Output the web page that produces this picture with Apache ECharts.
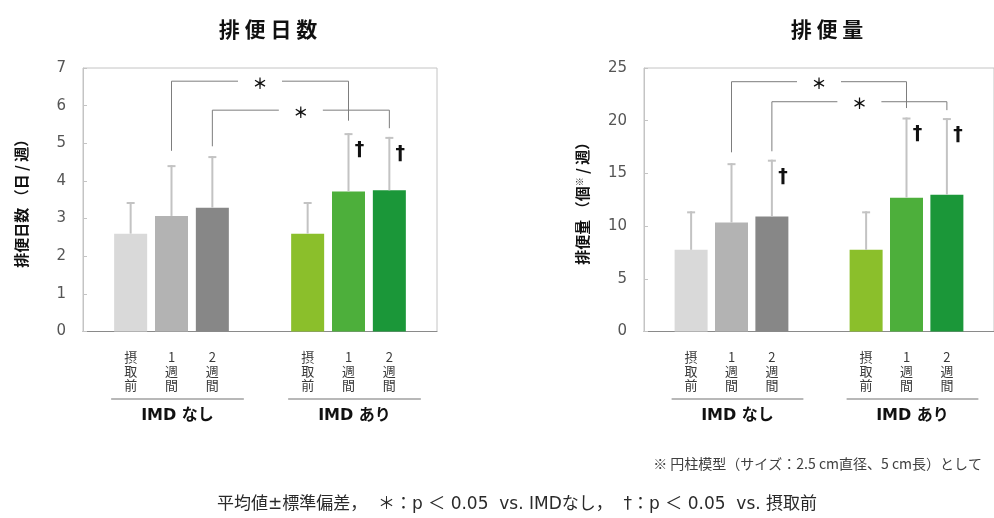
<!DOCTYPE html>
<html><head><meta charset="utf-8">
<script src="https://cdn.jsdelivr.net/npm/echarts@6/dist/echarts.min.js"></script>
<style>html,body{margin:0;padding:0;background:#fff}#c{width:994px;height:518px}</style>
</head><body><div id="c"></div>
<script>
// ---- data ----
const categories = ['摂取前', '1週間', '2週間'];
const groups = ['IMD なし', 'IMD あり'];
const titles = ['排 便 日 数', '排 便 量'];
const yNames = ['排便日数 （日 / 週）', '排便量 （個{s|※} / 週）'];
const daysMean = [2.6, 3.07, 3.29, 2.6, 3.72, 3.75];
const daysSD   = [0.84, 1.35, 1.37, 0.84, 1.55, 1.42];
const daysDagger = [0, 0, 0, 0, 1, 1];
const volMean = [7.75, 10.34, 10.9, 7.75, 12.7, 12.97];
const volSD   = [3.65, 5.63, 5.4, 3.65, 7.6, 7.28];
const volDagger = [0, 0, 1, 0, 1, 1];
// brackets: [fromBar, toBar, level, leftDrop, rightDrop]
const daysBrackets = [[1, 4, 6.65, 4.8, 5.6], [2, 5, 5.88, 4.92, 5.4]];
const volBrackets  = [[1, 4, 23.7, 17.0, 21.2], [2, 5, 21.8, 17.1, 21.0]];
const daysTicks = {min: 0, max: 7, interval: 1};
const volTicks = {min: 0, max: 25, interval: 5};
const footnote = '※ 円柱模型（サイズ：2.5 cm直径、5 cm長）として';
const footer = '平均値±標準偏差，  ＊：p ＜ 0.05  vs. IMDなし，  †：p ＜ 0.05  vs. 摂取前';
const barColors = ['#d9d9d9', '#b3b3b3', '#878787', '#8bbf2b', '#4daf3b', '#1b9739'];

// ---- layout helpers ----
const NSLOT = 26;
const SLOT = [3, 6, 9, 16, 19, 22];
const slotCats = Array.from({length: NSLOT}, (_, i) => {
  const k = SLOT.indexOf(i);
  return k < 0 ? '' : categories[k % 3].split('').join('\n');
});
const FONT = '"Noto Sans CJK JP", sans-serif';

function barData(mean) {
  const d = Array(NSLOT).fill('-');
  mean.forEach((v, k) => { d[SLOT[k]] = {value: v, itemStyle: {color: barColors[k]}}; });
  return d;
}

function errSeries(idx, mean, sd, dag) {
  return {
    type: 'custom', xAxisIndex: idx, yAxisIndex: idx, clip: false, z: 5,
    data: mean.map((m, k) => [SLOT[k], m, sd[k], dag[k]]),
    renderItem(params, api) {
      const x = api.value(0), m = api.value(1), s = api.value(2), d = api.value(3);
      const p0 = api.coord([x, m]), p1 = api.coord([x, m + s]);
      const ch = [
        {type: 'line', shape: {x1: p0[0], y1: p0[1], x2: p1[0], y2: p1[1]}, style: {stroke: '#c3c3c3', lineWidth: 2}},
        {type: 'line', shape: {x1: p1[0] - 4, y1: p1[1] + 1, x2: p1[0] + 4, y2: p1[1] + 1}, style: {stroke: '#c3c3c3', lineWidth: 2}}
      ];
      if (d) ch.push({type: 'text', style: {text: '†', x: p1[0] + 11, y: p1[1] + 17, align: 'center', verticalAlign: 'middle',
        font: 'bold 19px "DejaVu Sans", sans-serif', fill: '#111'}});
      return {type: 'group', children: ch};
    }
  };
}

function bracketSeries(idx, br) {
  return {
    type: 'custom', xAxisIndex: idx, yAxisIndex: idx, clip: false, z: 6,
    data: br.map(b => [SLOT[b[0]], SLOT[b[1]], b[2], b[3], b[4]]),
    renderItem(params, api) {
      const a = api.value(0), b = api.value(1), lv = api.value(2), dl = api.value(3), dr = api.value(4);
      const pa = api.coord([a, lv]), pb = api.coord([b, lv]);
      const ya = api.coord([a, dl])[1], yb = api.coord([b, dr])[1];
      const mid = (pa[0] + pb[0]) / 2, gap = 22;
      const st = {stroke: '#7d7d7d', lineWidth: 1};
      return {type: 'group', children: [
        {type: 'line', shape: {x1: pa[0], y1: pa[1], x2: pa[0], y2: ya}, style: st},
        {type: 'line', shape: {x1: pb[0], y1: pb[1], x2: pb[0], y2: yb}, style: st},
        {type: 'line', shape: {x1: pa[0], y1: pa[1], x2: mid - gap, y2: pa[1]}, style: st},
        {type: 'line', shape: {x1: mid + gap, y1: pa[1], x2: pb[0], y2: pb[1]}, style: st},
        {type: 'text', style: {text: '＊', x: mid, y: pa[1] + 2, align: 'center', verticalAlign: 'middle',
          font: 'bold 15px ' + FONT, fill: '#111'}}
      ]};
    }
  };
}

function groupSeries(idx) {
  return {
    type: 'custom', xAxisIndex: idx, yAxisIndex: idx, clip: false, z: 4,
    data: groups.map((g, k) => [SLOT[k * 3], SLOT[k * 3 + 2], k]),
    renderItem(params, api) {
      const p1 = api.coord([api.value(0), 0]), p3 = api.coord([api.value(1), 0]);
      const x1 = p1[0] - 19.5, x2 = p3[0] + 31.5, y = p1[1];
      return {type: 'group', children: [
        {type: 'line', shape: {x1: x1, y1: y + 67.5, x2: x2, y2: y + 67.5}, style: {stroke: '#a0a0a0', lineWidth: 1.5}},
        {type: 'text', style: {text: groups[api.value(2)], x: (x1 + x2) / 2, y: y + 84, align: 'center', verticalAlign: 'middle',
          font: 'bold 16px "DejaVu Sans", "Noto Sans CJK JP", sans-serif', fill: '#111'}}
      ]};
    }
  };
}

const grids = [
  {left: 83, top: 68, width: 354, bottom: 186.5, show: true, borderColor: '#c4c4c4', borderWidth: 1},
  {left: 644, top: 68, width: 360, bottom: 186.5, show: true, borderColor: '#c4c4c4', borderWidth: 1}
];
function xAx(i) {
  return {type: 'category', gridIndex: i, data: slotCats, boundaryGap: true,
    axisLine: {lineStyle: {color: '#8a8a8a', width: 1}}, axisTick: {show: false},
    axisLabel: {interval: 0, margin: 18, fontSize: 13, lineHeight: 14.2, color: '#3a3a3a', fontFamily: FONT}};
}
function yAx(i, t, name) {
  return {type: 'value', gridIndex: i, min: t.min, max: t.max, interval: t.interval,
    name: name, nameLocation: 'middle', nameGap: 54, nameRotate: 90,
    nameTextStyle: {fontSize: 15, fontWeight: 'bold', color: '#111', fontFamily: FONT,
      rich: {s: {fontSize: 9, fontWeight: 'bold', color: '#111', verticalAlign: 'top', fontFamily: FONT}}},
    axisLine: {show: true, lineStyle: {color: '#c4c4c4'}},
    axisTick: {show: true, inside: true, length: 4, lineStyle: {color: '#c4c4c4'}},
    splitLine: {show: false},
    axisLabel: {margin: 17, fontSize: 15, color: '#555', fontFamily: '"DejaVu Sans", sans-serif'}};
}

const chart = echarts.init(document.getElementById('c'), null, {renderer: 'canvas'});
chart.setOption({
  animation: false,
  backgroundColor: '#fff',
  title: [
    {text: titles[0], left: 263, top: 14, textAlign: 'center', textStyle: {fontSize: 21, fontWeight: 'bold', color: '#111', fontFamily: FONT}},
    {text: titles[1], left: 822, top: 14, textAlign: 'center', textStyle: {fontSize: 21, fontWeight: 'bold', color: '#111', fontFamily: FONT}}
  ],
  grid: grids,
  xAxis: [xAx(0), xAx(1)],
  yAxis: [yAx(0, daysTicks, yNames[0]), yAx(1, volTicks, yNames[1])],
  series: [
    {type: 'bar', xAxisIndex: 0, yAxisIndex: 0, barWidth: 33, data: barData(daysMean)},
    {type: 'bar', xAxisIndex: 1, yAxisIndex: 1, barWidth: 33, data: barData(volMean)},
    errSeries(0, daysMean, daysSD, daysDagger),
    errSeries(1, volMean, volSD, volDagger),
    bracketSeries(0, daysBrackets),
    bracketSeries(1, volBrackets),
    groupSeries(0),
    groupSeries(1)
  ],
  graphic: [
    {type: 'text', right: 12, top: 457, style: {text: footnote, font: '14px ' + FONT, fill: '#404040'}},
    {type: 'text', left: 217, top: 496, style: {text: footer, font: '17px "DejaVu Sans", "Noto Sans CJK JP", sans-serif', fill: '#2a2a2a'}}
  ]
});
</script></body></html>
